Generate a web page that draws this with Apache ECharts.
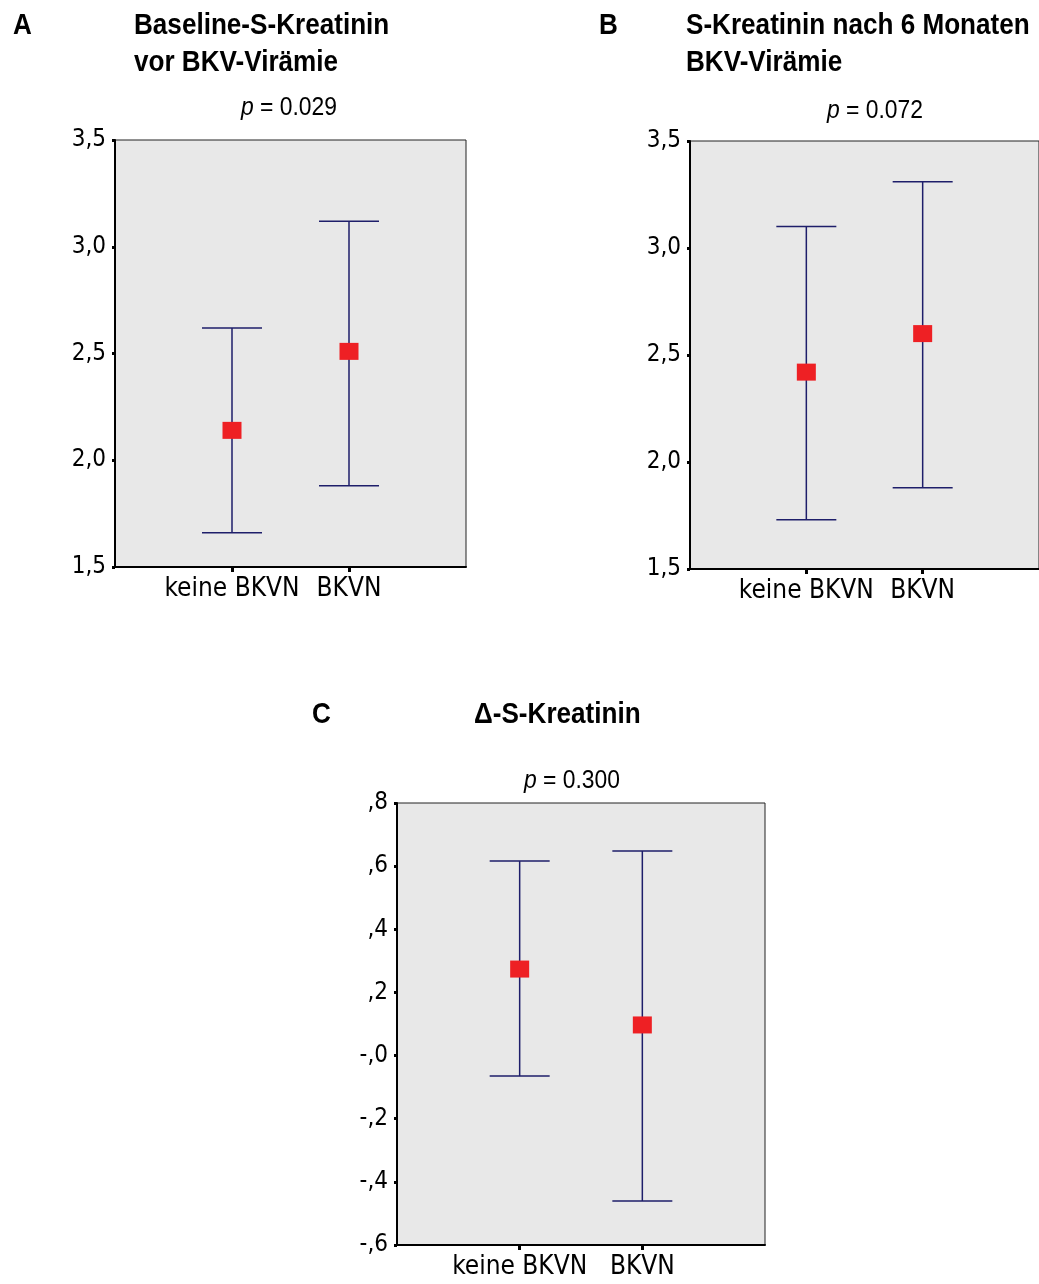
<!DOCTYPE html>
<html><head><meta charset="utf-8">
<script src="https://cdn.jsdelivr.net/npm/echarts@6/dist/echarts.min.js"></script>
<style>html,body{margin:0;padding:0;background:#fff}#c{width:1039px;height:1284px}</style>
</head><body><div id="c"></div>
<script>
const AXFONT = '"DejaVu Sans Condensed","Liberation Sans",sans-serif';
const TFONT = '"Liberation Sans",Arial,sans-serif';
const categories = ['keine BKVN', 'BKVN'];
// Panel A: Baseline
const meanA = [2.14, 2.51];
const lowerA = [1.66, 1.88];
const upperA = [2.62, 3.12];
// Panel B: nach 6 Monaten
const meanB = [2.42, 2.60];
const lowerB = [1.73, 1.88];
const upperB = [3.10, 3.31];
// Panel C: Delta
const meanC = [0.274, 0.097];
const lowerC = [-0.065, -0.461];
const upperC = [0.616, 0.648];
const yTicksAB = ['1,5', '2,0', '2,5', '3,0', '3,5'];
const yTicksC = ['-,6', '-,4', '-,2', '-,0', ',2', ',4', ',6', ',8'];
const pValues = ['0.029', '0.072', '0.300'];
const panelLetters = ['A', 'B', 'C'];
const panelTitles = [['Baseline-S-Kreatinin', 'vor BKV-Virämie'], ['S-Kreatinin nach 6 Monaten', 'BKV-Virämie'], ['Δ-S-Kreatinin']];

const xData = [''].concat(categories, ['']);
const grids = [
  {left: 115, top: 140, width: 351, height: 427},
  {left: 690, top: 141, width: 351, height: 428},
  {left: 397, top: 803, width: 368, height: 442}
];
const yRanges = [
  {min: 1.5, max: 3.5, interval: 0.5, labels: yTicksAB},
  {min: 1.5, max: 3.5, interval: 0.5, labels: yTicksAB},
  {min: -0.6, max: 0.8, interval: 0.2, labels: yTicksC}
];
const panels = [
  {mean: meanA, lower: lowerA, upper: upperA},
  {mean: meanB, lower: lowerB, upper: upperB},
  {mean: meanC, lower: lowerC, upper: upperC}
];
const textPos = [
  {lx: 13, tx: 134, ty: 26, px: 289, py: 108},
  {lx: 599, tx: 686, ty: 26, px: 875, py: 111},
  {lx: 312, tx: 474, ty: 715, px: 572, py: 781}
];
const showCat = (i) => i === 1 || i === 2;

const graphics = [];
textPos.forEach((t, k) => {
  const titleStyle = {fontFamily: TFONT, fontWeight: 'bold', fontSize: 30, fill: '#000', align: 'left', verticalAlign: 'middle'};
  graphics.push({type: 'text', x: t.lx, y: t.ty, scaleX: 0.87, style: Object.assign({text: panelLetters[k]}, titleStyle)});
  panelTitles[k].forEach((line, j) => {
    graphics.push({type: 'text', x: t.tx, y: t.ty + j * 37, scaleX: 0.87, style: Object.assign({text: line}, titleStyle)});
  });
  graphics.push({type: 'text', x: t.px, y: t.py, scaleX: 0.88, style: {
    text: '{i|p} = ' + pValues[k], fontFamily: TFONT, fontSize: 26, fill: '#000', align: 'center', verticalAlign: 'middle',
    rich: {i: {fontFamily: TFONT, fontSize: 26, fontStyle: 'italic', fill: '#000'}}
  }});
});

const option = {
  animation: false,
  backgroundColor: '#fff',
  graphic: graphics,
  grid: grids.map(g => Object.assign({show: true, backgroundColor: '#e8e8e8', borderColor: '#222', borderWidth: 1}, g)),
  xAxis: grids.map((g, k) => ({
    type: 'category', gridIndex: k, data: xData, boundaryGap: false,
    axisLine: {show: true, onZero: false, lineStyle: {color: '#000', width: 2}},
    axisTick: {show: true, interval: showCat, length: 5, lineStyle: {color: '#000', width: 3}},
    axisLabel: {show: true, interval: showCat, margin: 9, fontFamily: AXFONT, fontSize: 26, color: '#000'},
    splitLine: {show: false}
  })),
  yAxis: yRanges.map((r, k) => ({
    type: 'value', gridIndex: k, min: r.min, max: r.max, interval: r.interval,
    axisLine: {show: true, lineStyle: {color: '#000', width: 2}},
    axisTick: {show: true, length: 3, lineStyle: {color: '#000', width: 3}},
    axisLabel: {show: true, margin: 9, fontFamily: AXFONT, fontSize: 24, color: '#000',
      formatter: (v, i) => r.labels[i]},
    splitLine: {show: false}
  })),
  series: []
};

panels.forEach((p, k) => {
  option.series.push({
    type: 'custom', xAxisIndex: k, yAxisIndex: k,
    data: categories.map((c, i) => [c, p.lower[i], p.upper[i]]),
    encode: {x: 0, y: [1, 2]},
    renderItem: (params, api) => {
      const lo = api.coord([api.value(0), api.value(1)]);
      const hi = api.coord([api.value(0), api.value(2)]);
      const hw = 30;
      const st = {stroke: '#1e1e6a', lineWidth: 1.5};
      return {type: 'group', children: [
        {type: 'line', shape: {x1: lo[0], y1: lo[1], x2: hi[0], y2: hi[1]}, style: st},
        {type: 'line', shape: {x1: lo[0] - hw, y1: lo[1], x2: lo[0] + hw, y2: lo[1]}, style: st},
        {type: 'line', shape: {x1: hi[0] - hw, y1: hi[1], x2: hi[0] + hw, y2: hi[1]}, style: st}
      ]};
    },
    z: 2
  });
  option.series.push({
    type: 'scatter', xAxisIndex: k, yAxisIndex: k,
    data: categories.map((c, i) => [c, p.mean[i]]),
    symbol: 'rect', symbolSize: [19, 17],
    itemStyle: {color: '#ee2024', opacity: 1},
    z: 3
  });
});

const chart = echarts.init(document.getElementById('c'), null, {renderer: 'canvas'});
chart.setOption(option);
</script>
</body></html>
